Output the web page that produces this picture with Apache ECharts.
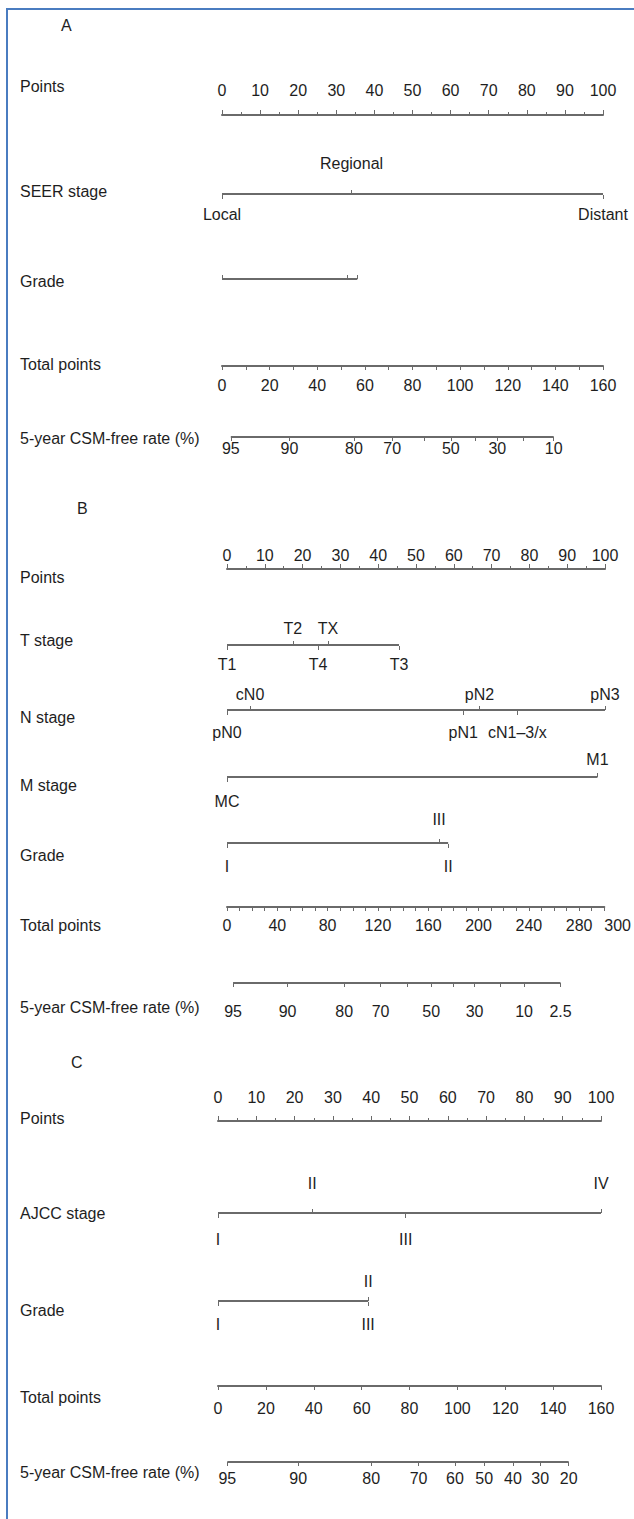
<!DOCTYPE html>
<html>
<head>
<meta charset="utf-8">
<script src="https://cdn.jsdelivr.net/npm/echarts@6/dist/echarts.min.js"></script>
<style>
  html, body { margin: 0; padding: 0; background: #fff; }
  #frame { position: absolute; left: 6px; top: 8px; width: 700px; height: 1600px;
           border-left: 2px solid #4a7cc0; border-top: 2px solid #4a7cc0; }
  #chart { position: absolute; left: 0; top: 0; width: 634px; height: 1519px; }
</style>
</head>
<body>
<div id="frame"></div>
<div id="chart"></div>
<script>
// ---- panel A : SEER stage model ----
const aSeerName = ['Local', 'Regional', 'Distant'];
const aSeerPts = [0, 34, 100];
const aSeerSide = ['down', 'up', 'down'];
const aGradeName = ['', '', ''];          // levels are not printed in panel A
const aGradePts = [0, 33, 35.5];
const aGradeSide = ['up', 'up', 'up'];
const aTotalLabels = [0, 20, 40, 60, 80, 100, 120, 140, 160];
const aRateTicks = [95, 90, 80, 70, 60, 50, 40, 30, 20, 10];
const aRateAt = [3.7, 28.3, 55.4, 71.5, 85.1, 96.1, 106.3, 115.6, 126.6, 139.3];
const aRateShown = [95, 90, 80, 70, 50, 30, 10];

// ---- panel B : TNM model ----
const bTName = ['T1', 'T2', 'T4', 'TX', 'T3'];
const bTPts = [0, 17.4, 24.1, 26.7, 45.5];
const bTSide = ['down', 'up', 'down', 'up', 'down'];
const bNName = ['pN0', 'cN0', 'pN1', 'pN2', 'cN1–3/x', 'pN3'];
const bNPts = [0, 6.1, 62.5, 66.8, 76.8, 100];
const bNSide = ['down', 'up', 'down', 'up', 'down', 'up'];
const bMName = ['MC', 'M1'];
const bMPts = [0, 98];
const bMSide = ['down', 'up'];
const bGradeName = ['I', 'III', 'II'];
const bGradePts = [0, 56.1, 58.5];
const bGradeSide = ['down', 'up', 'down'];
const bTotalLabels = [0, 40, 80, 120, 160, 200, 240, 280, 300];
const bRateTicks = [95, 90, 80, 70, 60, 50, 40, 30, 20, 10, 2.5];
const bRateAt = [4.8, 48.1, 93.0, 121.9, 142.8, 162.0, 179.6, 196.5, 216.6, 235.8, 264.7];
const bRateShown = [95, 90, 80, 70, 50, 30, 10, 2.5];

// ---- panel C : AJCC stage model ----
const cAjccName = ['I', 'II', 'III', 'IV'];
const cAjccPts = [0, 24.6, 49.0, 100];
const cAjccSide = ['down', 'up', 'down', 'up'];
const cGradeName = ['I', 'II', 'III'];
const cGradePts = [0, 39.2, 39.2];
const cGradeSide = ['down', 'up', 'down'];
const cTotalLabels = [0, 20, 40, 60, 80, 100, 120, 140, 160];
const cRateTicks = [95, 90, 80, 70, 60, 50, 40, 30, 20];
const cRateAt = [3.9, 33.5, 64.0, 83.8, 99.0, 111.2, 123.2, 134.6, 146.5];
const cRateShown = [95, 90, 80, 70, 60, 50, 40, 30, 20];

const FONT = 'Liberation Sans';
const FS = 16;
const AXIS = '#6a6a6a', INK = '#1e1e1e';

const grids = [], xAxes = [], yAxes = [], series = [], texts = [];

function label(text, x, y) {
  texts.push({ type: 'text', x, y, silent: true,
    style: { text, fill: INK, fontSize: FS, fontFamily: FONT, verticalAlign: 'middle', align: 'left' } });
}
function addGrid(p, top, height) {
  grids.push({ left: p.left, width: p.right - p.left, top, height });
  yAxes.push({ gridIndex: grids.length - 1, type: 'value', min: -1, max: 1, show: false });
  return grids.length - 1;
}
const txt = { color: INK, fontSize: FS, fontFamily: FONT, hideOverlap: false, showMinLabel: true, showMaxLabel: true };
const nearest = (arr, v) => arr.reduce((b, q, i) => Math.abs(q - v) < Math.abs(arr[b] - v) ? i : b, 0);

function pointsRow(p, y, margin) {
  const g = addGrid(p, y, 2);
  xAxes.push({ gridIndex: g, type: 'value', position: 'top', min: 0, max: 100, interval: 10,
    axisLine: { show: true, lineStyle: { color: AXIS, width: 2 } },
    axisTick: { show: true, length: 5, lineStyle: { color: AXIS } },
    minorTick: { show: true, splitNumber: 2, length: 3, lineStyle: { color: AXIS } },
    axisLabel: { ...txt, margin }, splitLine: { show: false } });
}

// the end label sits on its own label-only axis, so a tight pair like "280 300" is not thinned out
function totalRow(p, y, max, tickStep, labelVals, margin, endAlign) {
  const g = addGrid(p, y - 2, 2);
  xAxes.push({ gridIndex: g, type: 'value', position: 'bottom', min: 0, max, interval: tickStep,
    axisLine: { show: true, lineStyle: { color: AXIS, width: 2 } },
    axisTick: { show: true, length: 4, lineStyle: { color: AXIS } },
    axisLabel: { ...txt, margin, customValues: labelVals.slice(0, -1) },
    splitLine: { show: false } });
  xAxes.push({ gridIndex: g, type: 'value', position: 'bottom', min: 0, max,
    axisLine: { show: false }, axisTick: { show: false }, splitLine: { show: false },
    axisLabel: { ...txt, margin, align: endAlign || 'center', customValues: labelVals.slice(-1) } });
}

function rateRow(p, y, max, ticks, at, shown, margin) {
  const g = addGrid(p, y - 1, 2);
  const xi = xAxes.length;
  xAxes.push({ gridIndex: g, type: 'value', position: 'bottom', min: 0, max,
    axisLine: { show: false },
    axisTick: { show: true, length: 4, customValues: at, lineStyle: { color: AXIS } },
    axisLabel: { ...txt, margin, customValues: shown.map(v => at[ticks.indexOf(v)]),
      formatter: v => String(ticks[nearest(at, v)]) },
    splitLine: { show: false } });
  series.push({ type: 'line', xAxisIndex: xi, yAxisIndex: g, silent: true, symbol: 'none',
    data: [[at[0], 0], [at[at.length - 1], 0]], lineStyle: { color: AXIS, width: 2 } });
}

function varRow(p, y, names, pts, sides, upMargin, downMargin) {
  const g = addGrid(p, y - 1, 2);
  const side = s => {
    const idx = pts.map((v, i) => i).filter(i => sides[i] === s);
    const vals = idx.map(i => pts[i]);
    return { gridIndex: g, type: 'value', position: s === 'up' ? 'top' : 'bottom', min: 0, max: 100,
      axisLine: { show: false },
      axisTick: { show: true, length: 4, customValues: vals, lineStyle: { color: AXIS } },
      axisLabel: { ...txt, margin: s === 'up' ? upMargin : downMargin, customValues: vals,
        formatter: v => names[idx[nearest(vals, v)]] },
      splitLine: { show: false } };
  };
  const xi = xAxes.length;
  xAxes.push(side('up'), side('down'));
  series.push({ type: 'line', xAxisIndex: xi, yAxisIndex: g, silent: true, symbol: 'none',
    data: [[0, 0], [Math.max(...pts), 0]], lineStyle: { color: AXIS, width: 2 } });
}

// ---- layout ----
const A = { left: 222, right: 603 }, B = { left: 227, right: 605 }, C = { left: 218, right: 601 };

label('A', 61, 25);
label('Points', 20, 86);                 pointsRow(A, 114, 16);
label('SEER stage', 20, 191);            varRow(A, 194, aSeerName, aSeerPts, aSeerSide, 22, 11);
label('Grade', 20, 281);                 varRow(A, 279, aGradeName, aGradePts, aGradeSide, 10, 10);
label('Total points', 20, 364);          totalRow(A, 367, 160, 10, aTotalLabels, 10);
label('5-year CSM-free rate (%)', 20, 438); rateRow(A, 437, 160, aRateTicks, aRateAt, aRateShown, 2);

label('B', 77, 508);
label('Points', 20, 577);                pointsRow(B, 568, 5);
label('T stage', 20, 640);               varRow(B, 645, bTName, bTPts, bTSide, 8, 10);
label('N stage', 20, 717);               varRow(B, 710, bNName, bNPts, bNSide, 7, 13);
label('M stage', 20, 785);               varRow(B, 777, bMName, bMPts, bMSide, 9, 15);
label('Grade', 20, 855);                 varRow(B, 843, bGradeName, bGradePts, bGradeSide, 15, 14);
label('Total points', 20, 925);          totalRow(B, 908, 300, 10, bTotalLabels, 9, 'left');
label('5-year CSM-free rate (%)', 20, 1007); rateRow(B, 983, 300, bRateTicks, bRateAt, bRateShown, 19);

label('C', 71, 1062);
label('Points', 20, 1118);               pointsRow(C, 1120, 15);
label('AJCC stage', 20, 1213);           varRow(C, 1213, cAjccName, cAjccPts, cAjccSide, 21, 17);
label('Grade', 20, 1310);                varRow(C, 1301, cGradeName, cGradePts, cGradeSide, 11, 14);
label('Total points', 20, 1397);         totalRow(C, 1387, 160, 20, cTotalLabels, 13);
label('5-year CSM-free rate (%)', 20, 1472); rateRow(C, 1462, 160, cRateTicks, cRateAt, cRateShown, 7);

const chart = echarts.init(document.getElementById('chart'), null, { renderer: 'svg' });
chart.setOption({
  animation: false,
  grid: grids,
  xAxis: xAxes,
  yAxis: yAxes,
  series,
  graphic: texts
});
</script>
</body>
</html>
